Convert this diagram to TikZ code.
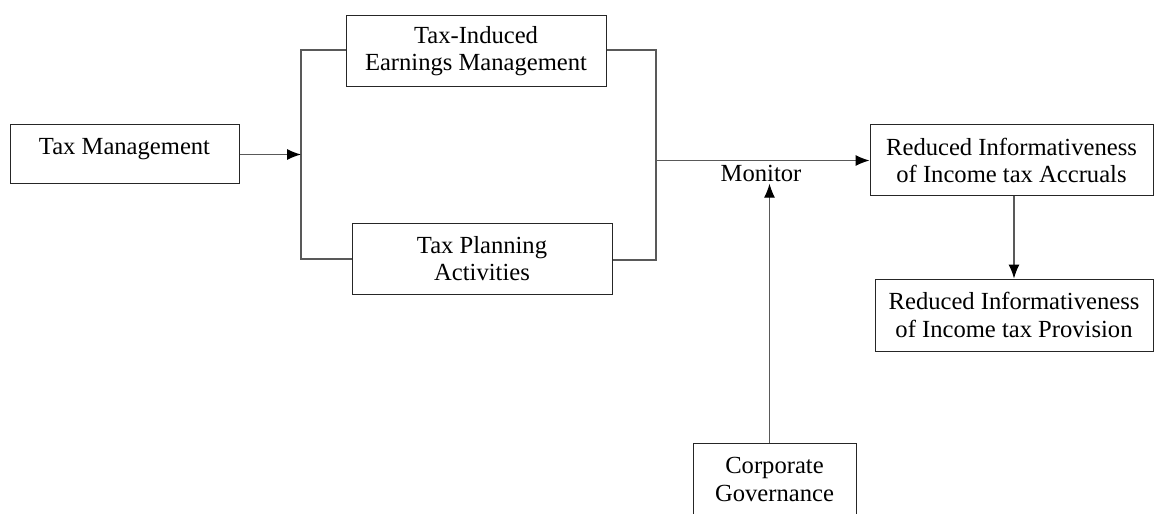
\documentclass[tikz,border=0pt]{standalone}
\usepackage{fontspec}
\setmainfont{Liberation Serif}
\usetikzlibrary{arrows.meta}

\begin{document}
\begin{tikzpicture}[x=0.5pt, y=-0.5pt, box/.style={draw=black!85, line width=0.5pt, align=center, inner sep=0pt, font=\fontsize{12.3}{13.6}\selectfont}, link/.style={draw=black!65, line width=0.55pt}, >={Latex[length=7pt,width=5.5pt,color=black]}]
    \clip (0,0) rectangle (1154,513);
    \node[box, minimum width=114.5pt, text height=15pt, text depth=14.5pt] (tm) at (124.5,154.5) {Tax Management};
    \node[box, minimum width=130pt, minimum height=35.5pt] (tiem) at (476,51.5) {Tax-Induced\\Earnings Management};
    \node[box, minimum width=130pt, minimum height=35.5pt] (tpa) at (482,258.5) {Tax Planning\\Activities};
    \node[box, minimum width=141.5pt, minimum height=35.5pt] (ria) at (1011.5,160.5) {Reduced Informativeness\\of Income tax Accruals};
    \node[box, minimum width=139pt, minimum height=36pt] (rip) at (1014,315) {Reduced Informativeness\\of Income tax Provision};
    \node[box, minimum width=81.5pt, minimum height=36.5pt] (cg) at (774.5,479.5) {Corporate\\Governance};
    \node[font=\fontsize{12.3}{13.6}\selectfont, inner sep=1pt] (mon) at (761,173) {Monitor};

    \coordinate (lt) at (301,50);
    \coordinate (lb) at (301,259);
    \coordinate (rt) at (656,50);
    \coordinate (rb) at (656,260);

    \draw[link] (tiem.west |- lt) -- (lt) -- (lb) -- (tpa.west |- lb);
    \draw[link] (tiem.east |- rt) -- (rt) -- (rb) -- (tpa.east |- rb);
    \draw[link, ->] (tm.east) -- (tm.east -| lt);
    \draw[link, ->] (rt |- ria.west) -- (ria.west);
    \draw[link, ->] ([xshift=-2.5pt]cg.north) -- ([xshift=-2.5pt]cg.north |- mon.south);
    \draw[link, ->] (ria.south -| rip.north) -- (rip.north);
\end{tikzpicture}
\end{document}
